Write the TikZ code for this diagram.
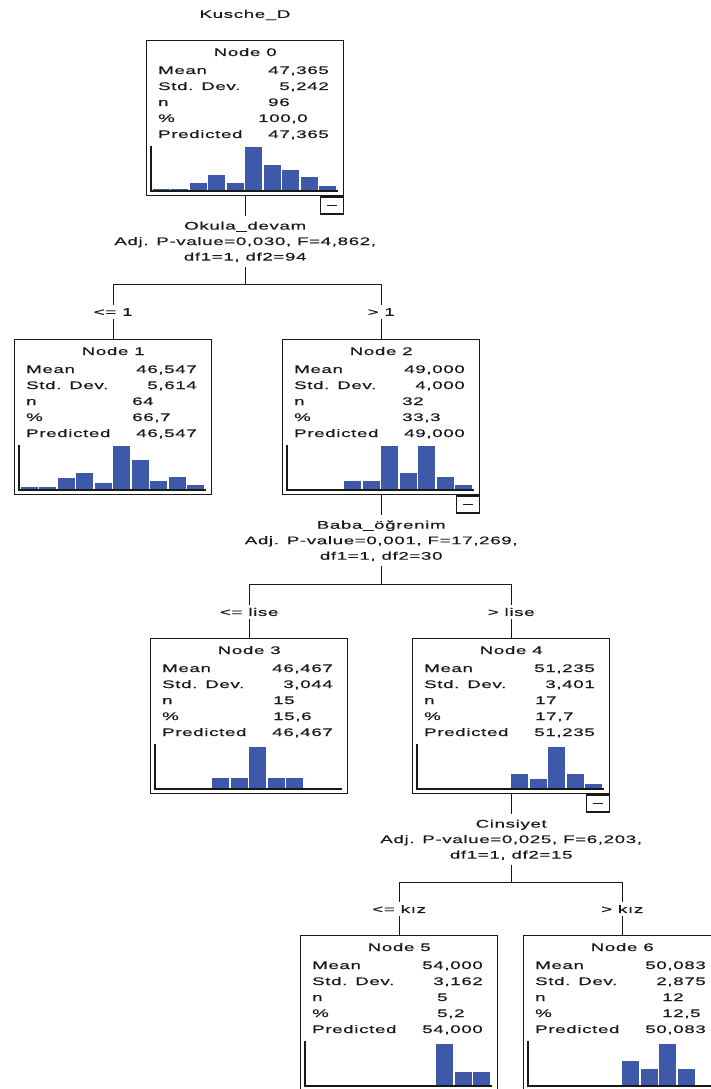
\documentclass[tikz,border=0pt]{standalone}
\usepackage{fontspec}
\setmainfont{Liberation Sans}[FakeStretch=1.7,LetterSpace=6,FakeBold=0.4]
\usetikzlibrary{calc}
\definecolor{barblue}{RGB}{63,89,170}
\definecolor{ink}{RGB}{25,25,25}
\tikzset{
  txt/.style={inner sep=0pt,text=ink,font=\fontsize{11}{15.5}\selectfont},
  nodebox/.style={draw=ink,line width=1.4pt,minimum width=197pt,minimum height=155pt,anchor=north west,inner sep=0pt},
  minusbox/.style={draw=ink,line width=1.2pt,minimum width=23pt,minimum height=17pt,inner sep=0pt},
  conn/.style={draw=ink,line width=1.3pt},
  axisline/.style={draw=ink,line width=1.6pt},
  split/.style={txt,align=center,inner xsep=2pt,inner ysep=5pt},
  edgelbl/.style={txt,fill=white,inner xsep=1pt,inner ysep=3pt},
}
\newcommand\spssnode[9]{%
  \node[nodebox] (#1) at (#2,#3) {};
  \node[txt,anchor=base] (#1-ti) at ($(#1.north)+(0,16)$) {Node #4};
  \node[txt,anchor=base west] (#1-l1) at ($(#1.north west)+(12,34)$) {Mean};
  \node[txt,anchor=base west] (#1-l2) at ($(#1.north west)+(12,50)$) {Std. Dev.};
  \node[txt,anchor=base west] (#1-l3) at ($(#1.north west)+(12,66)$) {n};
  \node[txt,anchor=base west] (#1-l4) at ($(#1.north west)+(12,82)$) {\%};
  \node[txt,anchor=base west] (#1-l5) at ($(#1.north west)+(12,98)$) {Predicted};
  \node[txt,anchor=base east] (#1-v1) at ($(#1.north west)+(183,34)$) {#5};
  \node[txt,anchor=base east] (#1-v2) at ($(#1.north west)+(183,50)$) {#6};
  \node[txt,anchor=base west] (#1-v3) at ($(#1.north west)+(#9,66)$) {#7};
  \node[txt,anchor=base west] (#1-v4) at ($(#1.north west)+(#9,82)$) {#8};
  \node[txt,anchor=base east] (#1-v5) at ($(#1.north west)+(183,98)$) {#5};
}
\newcommand\spssbars[2]{%
  \foreach \i/\h in {#2} {%
    \fill[barblue] ($(#1.north west)+({6+(\i-1)*18.5+0.7},151)$) rectangle ($(#1.north west)+({6+\i*18.5-0.7},{151-\h})$);
  }
  \draw[axisline] ($(#1.north west)+(5,106)$) -- ($(#1.north west)+(5,151)$) -- ($(#1.north west)+(192,151)$);
}
\newcommand\spssminus[1]{%
  \node[minusbox,anchor=north east] (#1-m) at (#1.south east) {};
  \draw[ink,line width=1.2pt] ($(#1-m.center)+(-5,0)$) -- ($(#1-m.center)+(5,0)$);
}
\begin{document}
\begin{tikzpicture}[x=1pt,y=-1pt]
\clip (0,0) rectangle (711,1089);
\fill[white] (0,0) rectangle (711,1089);

\node[txt] (title) at (245,15) {Kusche\_D};

% nodes
\spssnode{n0}{146}{40}{0}{47,365}{5,242}{96}{\kern-10pt 100,0}{122}
\spssbars{n0}{1/2,2/2,3/8,4/16,5/8,6/44,7/26,8/21,9/14,10/5}
\spssminus{n0}

\spssnode{n1}{14}{339}{1}{46,547}{5,614}{64}{66,7}{118}
\spssbars{n1}{1/2.7,2/2.7,3/12,4/17,5/7,6/44,7/30,8/9,9/13,10/5}

\spssnode{n2}{282}{339}{2}{49,000}{4,000}{32}{33,3}{120}
\spssbars{n2}{4/9,5/9,6/44,7/17,8/44,9/13,10/5}
\spssminus{n2}

\spssnode{n3}{150}{638}{3}{46,467}{3,044}{15}{15,6}{123}
\spssbars{n3}{4/11,5/11,6/42,7/11,8/11}

\spssnode{n4}{412}{638}{4}{51,235}{3,401}{17}{17,7}{123}
\spssbars{n4}{6/15,7/10,8/42,9/15,10/5}
\spssminus{n4}

\spssnode{n5}{300}{935}{5}{54,000}{3,162}{5}{5,2}{137}
\spssbars{n5}{8/42,9/14,10/14}

\spssnode{n6}{523}{935}{6}{50,083}{2,875}{12}{12,5}{139}
\spssbars{n6}{6/25,7/17,8/42,9/17}

% split 0
\node[split,anchor=north] (s0) at ($(n0.south)+(0,20)$) {Okula\_devam\\Adj. P-value=0,030, F=4,862,\\df1=1, df2=94};
\coordinate (j0) at ($(n0.south)+(0,88)$);
\draw[conn] (n0.south) -- (s0.north);
\draw[conn] (s0.south) -- (j0);
\draw[conn] (n1.north) |- (j0) -| (n2.north);
\node[edgelbl] (e1) at ($(n1.north)+(0,-27)$) {<= 1};
\node[edgelbl] (e2) at ($(n2.north)+(0,-27)$) {> 1};

% split 2
\node[split,anchor=north] (s2) at ($(n2.south)+(0,20)$) {Baba\_öğrenim\\Adj. P-value=0,001, F=17,269,\\df1=1, df2=30};
\coordinate (j2) at ($(n2.south)+(0,89)$);
\draw[conn] (n2.south) -- (s2.north);
\draw[conn] (s2.south) -- (j2);
\draw[conn] (n3.north) |- (j2) -| (n4.north);
\node[edgelbl] (e3) at ($(n3.north)+(0,-26)$) {<= lise};
\node[edgelbl] (e4) at ($(n4.north)+(0,-26)$) {> lise};

% split 4
\node[split,anchor=north] (s4) at ($(n4.south)+(0,20)$) {Cinsiyet\\Adj. P-value=0,025, F=6,203,\\df1=1, df2=15};
\coordinate (j4) at ($(n4.south)+(0,88)$);
\draw[conn] (n4.south) -- (s4.north);
\draw[conn] (s4.south) -- (j4);
\draw[conn] (n5.north) |- (j4) -| (n6.north);
\node[edgelbl] (e5) at ($(n5.north)+(0,-26)$) {<= kız};
\node[edgelbl] (e6) at ($(n6.north)+(0,-26)$) {> kız};
\end{tikzpicture}
\end{document}
